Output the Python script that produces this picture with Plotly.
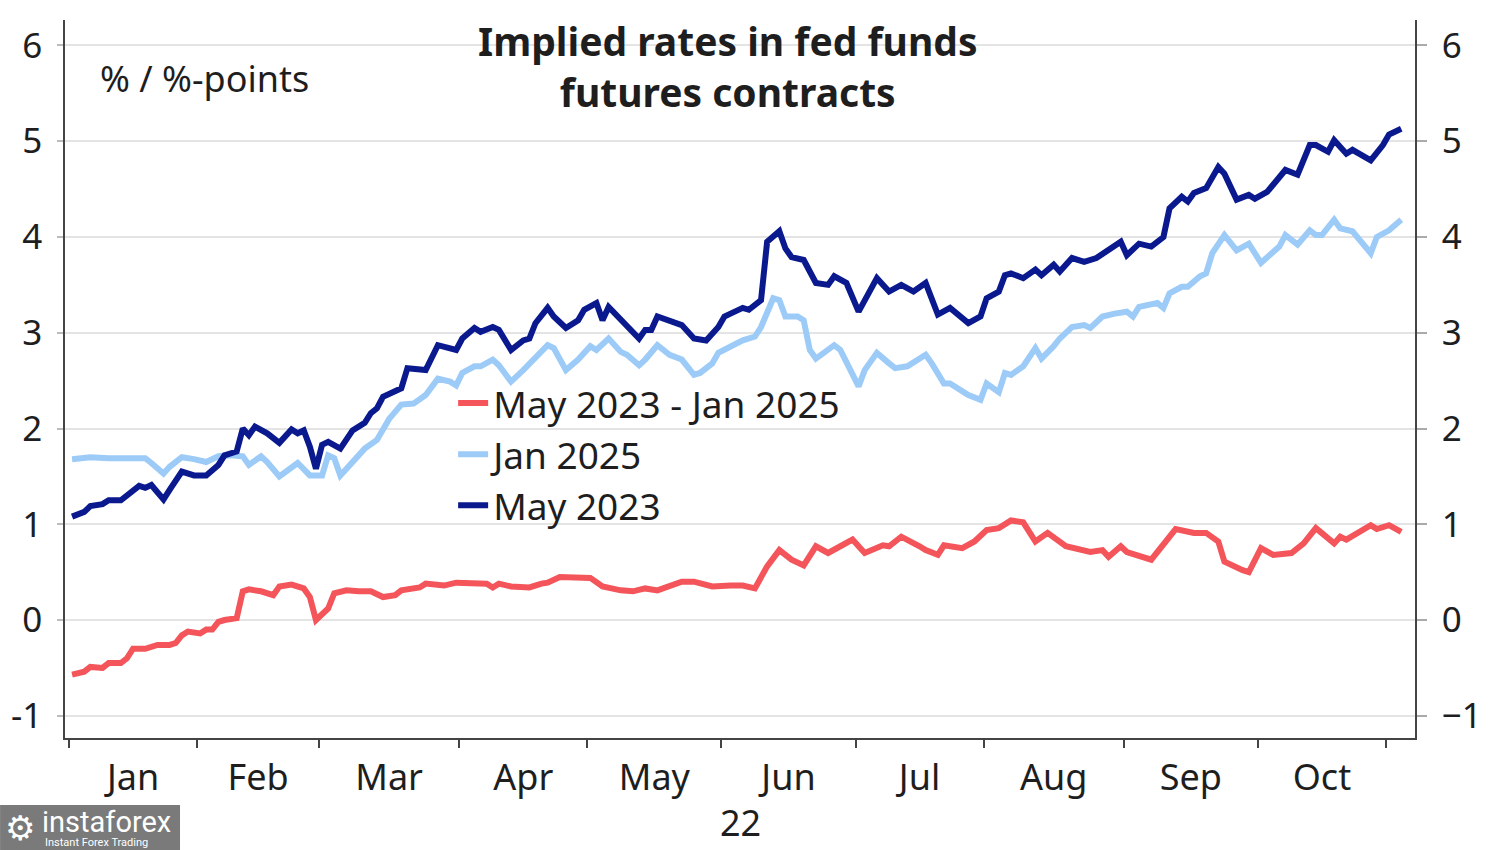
import pandas as pd
import plotly.graph_objects as go

# ---------------- data (x = business-day number counted from 2022-01-03) ----------------
months = ["Jan", "Feb", "Mar", "Apr", "May", "Jun", "Jul", "Aug", "Sep", "Oct"]
year_label = "22"
y_ticks = [-1, 0, 1, 2, 3, 4, 5, 6]
y_ticktext_left = ["-1", "0", "1", "2", "3", "4", "5", "6"]

may23_day = [0, 2, 3, 5, 6, 8, 11, 12, 13, 15, 16, 18, 20, 22, 24, 25, 27, 28, 29, 30,
             32, 34, 36, 37, 38, 39, 40, 41, 42, 44, 46, 48, 49, 50, 51, 53, 54, 55, 57, 58,
             60, 62, 63, 64, 66, 67, 69, 70, 72, 74, 75, 76, 78, 79, 81, 83, 84, 86, 87, 88,
             90, 91, 93, 94, 95, 96, 99, 100, 102, 104, 106, 107, 108, 110, 111, 113, 114, 116, 117, 118,
             120, 122, 124, 125, 127, 129, 132, 134, 136, 138, 140, 142, 144, 147, 149, 150, 152, 153, 154, 156,
             158, 159, 161, 162, 164, 166, 168, 171, 172, 173, 175, 177, 179, 180, 182, 183, 184, 186, 188, 189,
             191, 193, 194, 196, 199, 201, 203, 204, 206, 207, 209, 210, 213, 215, 216, 218]
may23_val = [1.08, 1.13, 1.19, 1.21, 1.25, 1.25, 1.40, 1.38, 1.41, 1.26, 1.36, 1.55, 1.51, 1.51, 1.62, 1.72, 1.76, 2.00, 1.93, 2.02,
             1.95, 1.85, 1.99, 1.95, 1.98, 1.81, 1.58, 1.83, 1.86, 1.79, 1.98, 2.06, 2.16, 2.21, 2.33, 2.38, 2.42, 2.63, 2.61, 2.61,
             2.87, 2.84, 2.82, 2.94, 3.05, 3.01, 3.06, 3.03, 2.82, 2.92, 2.94, 3.10, 3.26, 3.17, 3.05, 3.13, 3.24, 3.31, 3.13, 3.27,
             3.13, 3.08, 2.94, 3.03, 3.03, 3.17, 3.10, 3.08, 2.94, 2.92, 3.06, 3.17, 3.20, 3.26, 3.24, 3.34, 3.95, 4.06, 3.88, 3.79,
             3.76, 3.52, 3.50, 3.59, 3.52, 3.22, 3.57, 3.43, 3.50, 3.43, 3.52, 3.19, 3.26, 3.10, 3.17, 3.36, 3.43, 3.60, 3.62, 3.57,
             3.66, 3.60, 3.71, 3.64, 3.78, 3.74, 3.78, 3.90, 3.95, 3.81, 3.93, 3.90, 4.00, 4.30, 4.42, 4.37, 4.46, 4.51, 4.73, 4.66,
             4.39, 4.44, 4.40, 4.47, 4.70, 4.65, 4.96, 4.96, 4.89, 5.01, 4.87, 4.91, 4.80, 4.96, 5.07, 5.13]

jan25_day = [0, 3, 6, 10, 12, 13, 15, 16, 18, 20, 22, 24, 26, 28, 29, 31, 32, 34, 36, 37,
             39, 41, 42, 43, 44, 46, 48, 50, 51, 52, 54, 56, 58, 60, 62, 63, 64, 66, 67, 69,
             70, 72, 74, 76, 78, 79, 81, 83, 85, 86, 88, 90, 91, 93, 94, 96, 98, 100, 102, 103,
             105, 106, 108, 110, 112, 113, 115, 116, 117, 119, 120, 121, 122, 125, 126, 129, 130, 132, 134, 135,
             137, 140, 141, 143, 144, 147, 149, 150, 152, 153, 154, 156, 158, 159, 161, 162, 164, 166, 167, 169,
             171, 173, 174, 175, 178, 179, 180, 182, 183, 185, 186, 187, 189, 191, 193, 195, 198, 199, 201, 203,
             204, 205, 207, 208, 210, 213, 214, 216, 218]
jan25_val = [1.68, 1.70, 1.69, 1.70, 1.69, 1.64, 1.53, 1.60, 1.70, 1.68, 1.65, 1.71, 1.72, 1.71, 1.62, 1.71, 1.65, 1.50, 1.60, 1.64,
             1.51, 1.51, 1.72, 1.69, 1.51, 1.64, 1.79, 1.88, 1.98, 2.10, 2.25, 2.26, 2.35, 2.52, 2.49, 2.45, 2.58, 2.65, 2.65, 2.72,
             2.66, 2.49, 2.61, 2.73, 2.87, 2.84, 2.61, 2.72, 2.86, 2.82, 2.94, 2.80, 2.77, 2.66, 2.72, 2.87, 2.77, 2.72, 2.56, 2.58,
             2.68, 2.79, 2.86, 2.92, 2.96, 3.06, 3.36, 3.34, 3.17, 3.17, 3.13, 2.82, 2.73, 2.87, 2.82, 2.44, 2.61, 2.79, 2.68, 2.63,
             2.65, 2.77, 2.68, 2.47, 2.47, 2.35, 2.30, 2.47, 2.38, 2.58, 2.56, 2.65, 2.84, 2.73, 2.86, 2.94, 3.06, 3.08, 3.05, 3.17,
             3.20, 3.22, 3.17, 3.27, 3.31, 3.26, 3.41, 3.48, 3.48, 3.59, 3.62, 3.83, 4.02, 3.86, 3.93, 3.73, 3.90, 4.02, 3.92, 4.07,
             4.02, 4.02, 4.18, 4.09, 4.06, 3.83, 4.00, 4.07, 4.18]

spread_day = [0, 2, 3, 5, 6, 8, 9, 10, 12, 14, 16, 17, 18, 19, 21, 22, 23, 24, 25, 27,
              28, 29, 31, 33, 34, 36, 38, 39, 40, 41, 42, 43, 45, 47, 49, 51, 53, 54, 57, 58,
              61, 63, 65, 68, 69, 70, 72, 75, 77, 78, 80, 82, 85, 87, 90, 92, 94, 96, 100, 102,
              105, 108, 110, 112, 114, 116, 118, 120, 122, 124, 127, 128, 130, 133, 134, 136, 139, 140, 142, 143,
              146, 148, 150, 152, 154, 156, 158, 160, 163, 167, 169, 170, 172, 173, 177, 179, 181, 184, 186, 188,
              189, 192, 193, 195, 197, 200, 202, 204, 205, 207, 208, 209, 213, 214, 216, 218]
spread_val = [-0.57, -0.54, -0.49, -0.50, -0.45, -0.45, -0.40, -0.30, -0.30, -0.26, -0.26, -0.24, -0.16, -0.12, -0.14, -0.10, -0.10, -0.02, 0.00, 0.02,
              0.30, 0.32, 0.30, 0.26, 0.35, 0.37, 0.33, 0.24, 0.00, 0.07, 0.12, 0.28, 0.31, 0.30, 0.30, 0.24, 0.26, 0.31, 0.34, 0.38,
              0.36, 0.39, 0.38, 0.38, 0.34, 0.38, 0.35, 0.34, 0.38, 0.39, 0.45, 0.45, 0.44, 0.35, 0.31, 0.30, 0.33, 0.31, 0.40, 0.40,
              0.35, 0.36, 0.36, 0.33, 0.56, 0.73, 0.63, 0.57, 0.77, 0.70, 0.80, 0.84, 0.70, 0.78, 0.77, 0.87, 0.77, 0.73, 0.68, 0.78,
              0.75, 0.82, 0.94, 0.96, 1.04, 1.02, 0.82, 0.91, 0.77, 0.71, 0.73, 0.66, 0.77, 0.71, 0.63, 0.80, 0.95, 0.91, 0.91, 0.82,
              0.61, 0.52, 0.50, 0.75, 0.68, 0.70, 0.80, 0.96, 0.91, 0.80, 0.87, 0.84, 0.99, 0.95, 0.99, 0.92]

# ---------------- styling ----------------
NAVY = "#0A1A8E"
LIGHT = "#9DCBF8"
RED = "#F3555A"
AXIS = "#444444"
GRID = "#E4E4E4"
TXT = "#1E1E1E"
FONT = "Noto Sans"

bdays = pd.bdate_range("2022-01-03", "2022-12-30")
def dates_for(days):
    return [bdays[d].strftime("%d %b %Y") for d in days]

# month boundaries (half a business day before the first business day of each month)
month_starts = pd.date_range("2022-01-01", "2022-11-01", freq="MS")
bounds = []
for m in month_starts:
    first = bdays[bdays >= m][0]
    bounds.append(int(bdays.get_loc(first)) - 0.5)
mids = [(bounds[i] + bounds[i + 1]) / 2 for i in range(len(months))]

x_range = [-1.16, 220.26]
y_range = [-1.232, 6.266]

fig = go.Figure()
fig.add_trace(go.Scatter(x=spread_day, y=spread_val, customdata=dates_for(spread_day),
                         name="May 2023 - Jan 2025", mode="lines",
                         line=dict(color=RED, width=6),
                         hovertemplate="%{customdata}: %{y:.2f}<extra></extra>"))
fig.add_trace(go.Scatter(x=jan25_day, y=jan25_val, customdata=dates_for(jan25_day),
                         name="Jan 2025", mode="lines",
                         line=dict(color=LIGHT, width=6),
                         hovertemplate="%{customdata}: %{y:.2f}<extra></extra>"))
fig.add_trace(go.Scatter(x=may23_day, y=may23_val, customdata=dates_for(may23_day),
                         name="May 2023", mode="lines",
                         line=dict(color=NAVY, width=6),
                         hovertemplate="%{customdata}: %{y:.2f}<extra></extra>"))
# invisible trace so the right-hand axis is drawn
fig.add_trace(go.Scatter(x=[may23_day[0]], y=[may23_val[0]], yaxis="y2", mode="lines",
                         line=dict(width=0), showlegend=False, hoverinfo="skip"))

fig.update_layout(
    width=1500, height=850,
    margin=dict(l=65, r=85, t=20, b=112, autoexpand=False),
    paper_bgcolor="white", plot_bgcolor="white",
    font=dict(family=FONT, color=TXT),
    legend=dict(x=0.2875, y=0.509, xanchor="left", yanchor="top",
                bgcolor="rgba(0,0,0,0)", font=dict(size=37, color=TXT, family=FONT),
                traceorder="normal", tracegroupgap=0),
    xaxis=dict(range=x_range, tickmode="array", tickvals=mids, ticktext=months,
               ticks="", showgrid=False, zeroline=False,
               showline=True, linecolor=AXIS, linewidth=1.5,
               tickfont=dict(size=36, color=TXT, family=FONT), ticklabelstandoff=7,
               minor=dict(tickmode="array", tickvals=bounds, ticks="outside", ticklen=8,
                          tickwidth=1.5, tickcolor=AXIS, showgrid=False)),
    yaxis=dict(range=y_range, tickmode="array", tickvals=y_ticks, ticktext=y_ticktext_left,
               ticks="outside", ticklen=6, tickcolor="#BBBBBB", tickwidth=1.5,
               showgrid=True, gridcolor=GRID, gridwidth=1.5, zeroline=False,
               showline=True, linecolor=AXIS, linewidth=1.5,
               tickfont=dict(size=35, color=TXT, family=FONT), ticklabelstandoff=8),
    yaxis2=dict(range=y_range, overlaying="y", side="right", anchor="x",
                tickmode="array", tickvals=y_ticks,
                ticks="outside", ticklen=10, tickcolor="#AAAAAA", tickwidth=1.5,
                showgrid=False, zeroline=False,
                showline=True, linecolor=AXIS, linewidth=1.5,
                tickfont=dict(size=35, color=TXT, family=FONT), ticklabelstandoff=8),
)

annotations = [
    dict(text="<b>Implied rates in fed funds<br>futures contracts</b>", x=0.491, y=0.936,
         xref="paper", yref="paper", xanchor="center", yanchor="middle", showarrow=False,
         font=dict(size=39, color=TXT, family=FONT)),
    dict(text="% / %-points", x=0.0244, y=0.919, xref="paper", yref="paper",
         xanchor="left", yanchor="middle", showarrow=False,
         font=dict(size=36, color=TXT, family=FONT)),
    dict(text=year_label, x=0.5, y=-0.118, xref="paper", yref="paper",
         xanchor="center", yanchor="middle", showarrow=False,
         font=dict(size=36, color=TXT, family=FONT)),
    dict(text="⚙", x=-0.0335, y=-0.126, xref="paper", yref="paper",
         xanchor="center", yanchor="middle", showarrow=False,
         font=dict(size=34, color="white", family="DejaVu Sans")),
    dict(text="instaforex", x=-0.0185, y=-0.117, xref="paper", yref="paper",
         xanchor="left", yanchor="middle", showarrow=False,
         font=dict(size=29, color="white", family="Roboto")),
    dict(text="Instant Forex Trading", x=-0.0165, y=-0.1455, xref="paper", yref="paper",
         xanchor="left", yanchor="middle", showarrow=False,
         font=dict(size=11, color="white", family="Roboto")),
]
fig.update_layout(annotations=annotations)
fig.add_shape(type="rect", xref="paper", yref="paper", x0=-0.0481, x1=0.0852, y0=-0.156, y1=-0.0933,
              fillcolor="#7A7A7A", line=dict(width=0), layer="below")

fig.write_html("out.html", config={"displayModeBar": False},
               post_script="document.body.style.margin='0';document.body.style.overflow='hidden';")
